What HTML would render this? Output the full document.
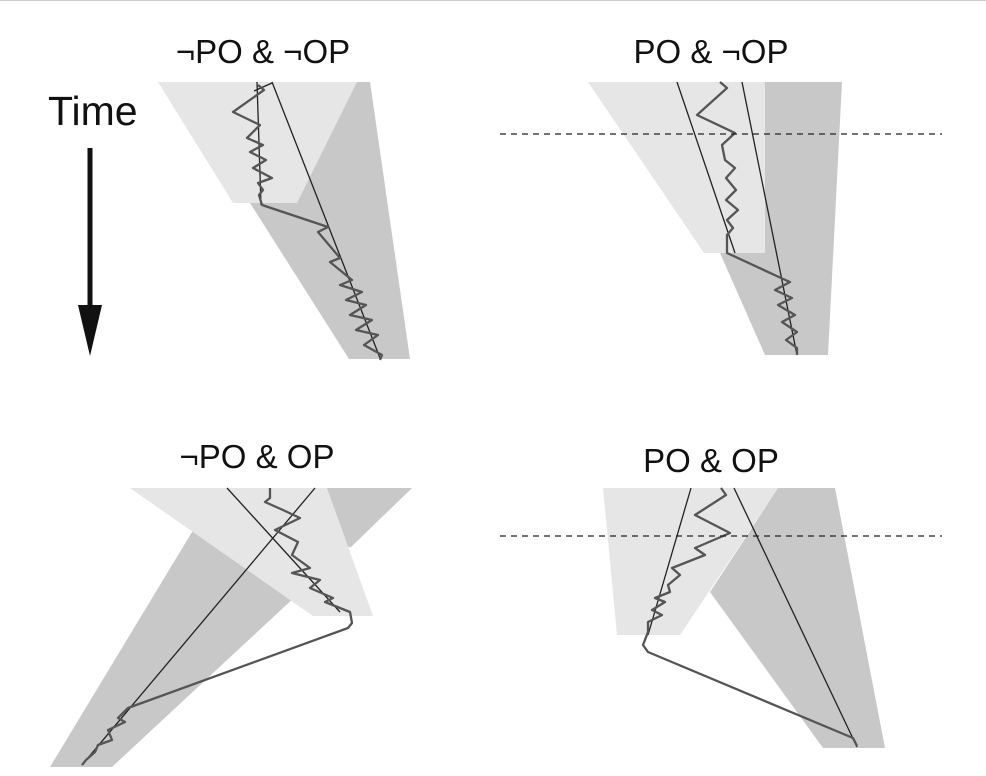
<!DOCTYPE html>
<html><head><meta charset="utf-8"><style>
html,body{margin:0;padding:0;background:#fff;}
svg{display:block;}
text{font-family:"Liberation Sans",Arial,sans-serif;fill:#111;}
</style></head><body>
<svg width="986" height="776" viewBox="0 0 986 776" xmlns="http://www.w3.org/2000/svg">
<line x1="0" y1="0.5" x2="986" y2="0.5" stroke="#ccc" stroke-width="1"/>
<!-- labels -->
<text x="263" y="63" font-size="33" text-anchor="middle">¬PO &amp; ¬OP</text>
<text x="711" y="63" font-size="33" text-anchor="middle">PO &amp; ¬OP</text>
<text x="257" y="468" font-size="33" text-anchor="middle">¬PO &amp; OP</text>
<text x="711" y="472" font-size="33" text-anchor="middle">PO &amp; OP</text>
<text x="48" y="125" font-size="41">Time</text>
<line x1="90" y1="148" x2="90" y2="315" stroke="#111" stroke-width="5"/>
<polygon points="78,305 102,305 90,356" fill="#111"/>

<!-- Panel 1 -->
<polygon points="357,82 370,82 410,359 349,359 250,203" fill="#c8c8c8"/>
<polygon points="158,82 357,82 297,203 233,203" fill="#e6e6e6"/>
<line x1="257" y1="82" x2="261" y2="205" stroke="#222" stroke-width="1.3"/>
<line x1="272" y1="82" x2="380" y2="358" stroke="#222" stroke-width="1.3"/>
<line x1="254" y1="91" x2="272" y2="83" stroke="#222" stroke-width="1.3"/>
<polyline fill="none" stroke="#555" stroke-width="2.3" stroke-linejoin="round" points="258,85 264,90 233,112 260,125 247,138 263,145 250,152 266,160 253,168 272,178 258,183 263,190 259,195 262,205 328,227 318,232 340,258 330,262 352,280 340,285 362,292 346,300 366,305 350,315 372,320 356,330 378,335 364,345 382,355 380,360"/>

<!-- Panel 2 -->
<polygon points="588,82 765,82 765,253 704,253" fill="#e6e6e6"/>
<polygon points="765,82 842,82 828,355 765,355 720,253 765,253" fill="#c8c8c8"/>
<line x1="677" y1="82" x2="735" y2="253" stroke="#222" stroke-width="1.3"/>
<line x1="742" y1="82" x2="797" y2="355" stroke="#222" stroke-width="1.3"/>
<polyline fill="none" stroke="#555" stroke-width="2.3" stroke-linejoin="round" points="720,82 727,88 697,115 735,133 722,145 725,160 735,168 726,178 736,190 726,200 738,210 727,220 733,228 727,235 727,253 781,278 790,282 775,290 792,298 778,305 795,315 782,322 797,332 786,340 797,348 797,355"/>
<line x1="500" y1="134" x2="942" y2="134" stroke="#222" stroke-width="1.3" stroke-dasharray="6,5"/>

<!-- Panel 3 -->
<polygon points="50,767 112,767 412,488 300,488 192,532" fill="#c8c8c8"/>
<polygon points="130,488 327,488 373,616 313,616" fill="#e6e6e6"/>
<polygon points="327,488 412,488 350,548" fill="#c8c8c8"/>
<line x1="227" y1="488" x2="340" y2="612" stroke="#222" stroke-width="1.3"/>
<line x1="315" y1="488" x2="82" y2="765" stroke="#222" stroke-width="1.3"/>
<polyline fill="none" stroke="#555" stroke-width="2.3" stroke-linejoin="round" points="270,488 270,498 265,502 283,510 300,518 275,530 298,542 292,555 310,568 292,573 320,580 310,588 333,598 325,602 350,612 352,623 348,628 128,708 118,718 125,722 108,730 112,740 98,745 95,752 86,760 82,765"/>

<!-- Panel 4 -->
<polygon points="603,488 778,488 680,635 617,635" fill="#e6e6e6"/>
<polygon points="778,488 835,488 885,748 823,748 710,592" fill="#c8c8c8"/>
<line x1="691" y1="488" x2="648" y2="635" stroke="#222" stroke-width="1.3"/>
<line x1="734" y1="488" x2="857" y2="747" stroke="#222" stroke-width="1.3"/>
<polyline fill="none" stroke="#555" stroke-width="2.3" stroke-linejoin="round" points="721,488 726,495 695,515 730,533 695,548 705,555 672,568 680,575 668,585 670,592 655,598 665,602 652,610 662,615 648,622 648,632 643,645 648,652 853,738 857,746"/>
<line x1="500" y1="536" x2="942" y2="536" stroke="#222" stroke-width="1.3" stroke-dasharray="6,5"/>
</svg>
</body></html>
